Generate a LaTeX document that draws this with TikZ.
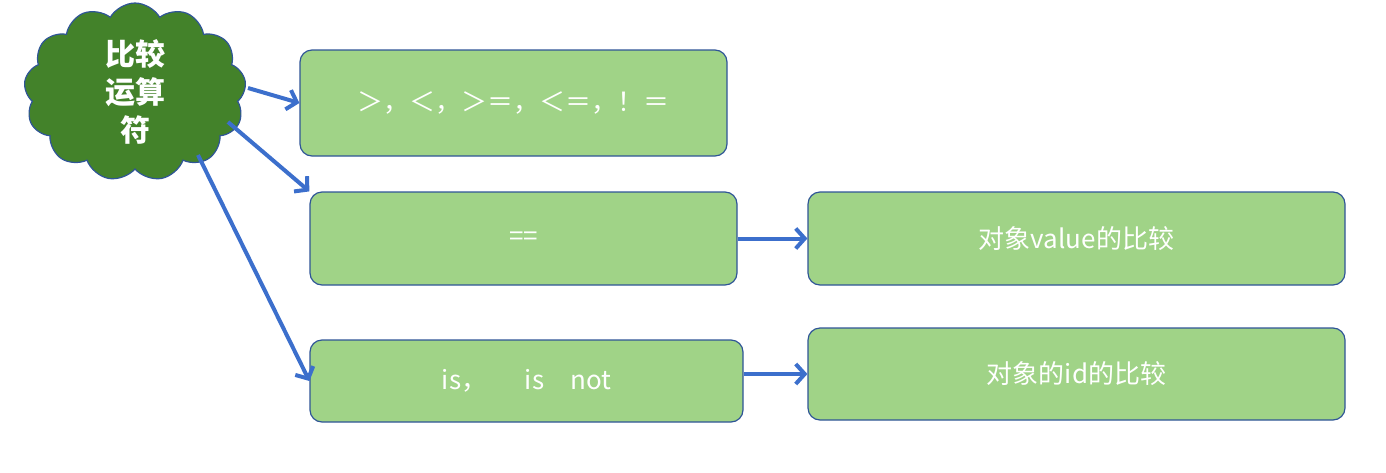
\documentclass[tikz,border=0pt]{standalone}
\usepackage{fontspec}
\setmainfont{Noto Sans CJK SC}
\usetikzlibrary{shapes.symbols,arrows.meta}
\definecolor{boxfill}{HTML}{A0D387}
\definecolor{boxline}{HTML}{2F5597}
\definecolor{arr}{HTML}{3C6FCC}
\definecolor{cloudfill}{HTML}{43822A}
\begin{document}
\begin{tikzpicture}[x=1pt,y=-1pt,
  bx/.style={draw=boxline,line width=1.2pt,fill=boxfill,rounded corners=12pt,text=white,font=\fontsize{26}{30}\selectfont},
  ar/.style={draw=arr,line width=4pt,-{Straight Barb[length=9pt,width=20pt,line width=4pt]}}]
\useasboundingbox (0,0) rectangle (1386,472);
\node[cloud,cloud puffs=13,cloud puff arc=120,aspect=1.1,draw=boxline,line width=1.2pt,fill=cloudfill,minimum width=222pt,minimum height=178pt,inner sep=0pt,text=white,align=center,font=\bfseries\fontsize{30}{38}\selectfont] (c) at (135,92) {比较\\运算\\符};
\node[bx,minimum width=427pt,minimum height=106pt] (b1) at (513.5,103) {＞，＜，＞＝，＜＝，！＝};
\node[bx,minimum width=427pt,minimum height=93pt] (b2) at (523.5,238.5) {==};
\node[bx,minimum width=433pt,minimum height=82pt] (b3) at (526.5,381) {is，\quad\ \ is\quad not};
\node[bx,minimum width=537pt,minimum height=93pt] (b4) at (1076.5,238.5) {对象value的比较};
\node[bx,minimum width=537pt,minimum height=92pt] (b5) at (1076.5,374) {对象的id的比较};
\coordinate (s1) at (248,88);
\coordinate (s2) at (228,122);
\coordinate (s3) at (198,155);
\draw[ar] (s1) -- (b1.west);
\draw[ar] (s2) -- (b2.north west);
\draw[ar] (s3) -- (b3.west);
\draw[ar] (b2.east) -- (b4.west);
\draw[ar] (b3.east |- b5.west) -- (b5.west);
\end{tikzpicture}
\end{document}
